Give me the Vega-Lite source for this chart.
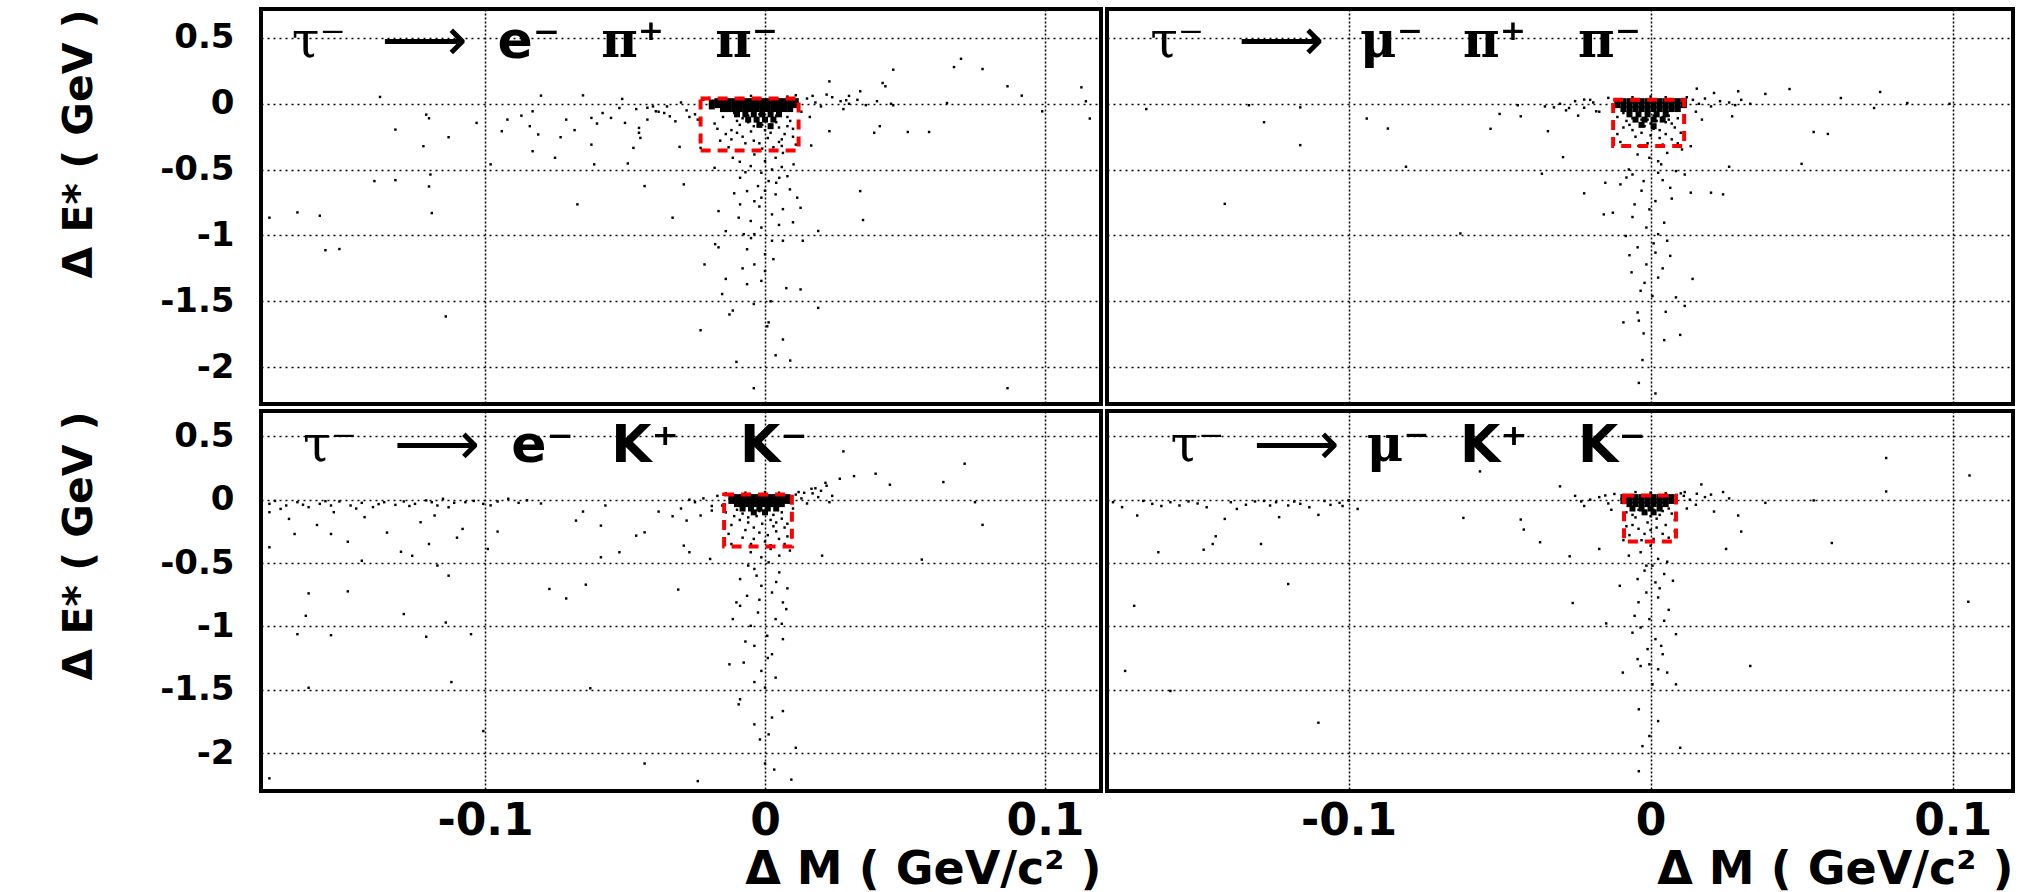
{
"$schema":"https://vega.github.io/schema/vega-lite/v6.json",
"background":"white",
"padding":{"left":56,"top":6,"right":0,"bottom":0},
"spacing":2,
"config":{
 "font":"DejaVu Sans",
 "view":{"stroke":"black","strokeWidth":4},
 "concat":{"spacing":2},
 "axis":{"grid":true,"gridColor":"black","gridWidth":1.5,"gridOpacity":1,"domain":false,"ticks":false,"labelFont":"DejaVu Sans","labelFontWeight":"bold","labelColor":"black","titleFont":"DejaVu Sans","titleFontWeight":"bold","titleColor":"black"},
 "axisX":{"gridDash":[2,2]},
 "axisY":{"gridDash":[2,4]}
},
"datasets":{
"box":[
{"d":"a","x":-0.023,"x2":0.012,"y":0.04,"y2":-0.355},
{"d":"b","x":-0.0124,"x2":0.0111,"y":0.03,"y2":-0.32},
{"d":"c","x":-0.0146,"x2":0.0096,"y":0.04,"y2":-0.37},
{"d":"e","x":-0.0088,"x2":0.0084,"y":0.033,"y2":-0.33}
],
"core":[
{"d":"a","x":-0.019,"y":0.01},{"d":"a","x":-0.017,"y":0.02},{"d":"a","x":-0.015,"y":0.02},{"d":"a","x":-0.013,"y":0.02},{"d":"a","x":-0.011,"y":0.02},{"d":"a","x":-0.009,"y":0.02},{"d":"a","x":-0.007,"y":0.02},{"d":"a","x":-0.005,"y":0.02},{"d":"a","x":-0.003,"y":0.02},{"d":"a","x":-0.001,"y":0.02},{"d":"a","x":0.001,"y":0.02},{"d":"a","x":0.003,"y":0.02},{"d":"a","x":0.005,"y":0.02},{"d":"a","x":0.007,"y":0.02},{"d":"a","x":0.009,"y":0.02},{"d":"a","x":0.011,"y":0.02},
{"d":"a","x":-0.019,"y":-0.02},{"d":"a","x":-0.017,"y":-0.01},{"d":"a","x":-0.015,"y":-0.01},{"d":"a","x":-0.013,"y":-0.01},{"d":"a","x":-0.011,"y":-0.01},{"d":"a","x":-0.009,"y":-0.01},{"d":"a","x":-0.007,"y":-0.01},{"d":"a","x":-0.005,"y":-0.01},{"d":"a","x":-0.003,"y":-0.01},{"d":"a","x":-0.001,"y":-0.01},{"d":"a","x":0.001,"y":-0.01},{"d":"a","x":0.003,"y":-0.01},{"d":"a","x":0.005,"y":-0.01},{"d":"a","x":0.007,"y":-0.01},{"d":"a","x":0.009,"y":-0.01},{"d":"a","x":0.011,"y":-0.01},
{"d":"a","x":-0.015,"y":-0.04},{"d":"a","x":-0.013,"y":-0.04},{"d":"a","x":-0.011,"y":-0.04},{"d":"a","x":-0.009,"y":-0.04},{"d":"a","x":-0.007,"y":-0.04},{"d":"a","x":-0.005,"y":-0.04},{"d":"a","x":-0.003,"y":-0.04},{"d":"a","x":-0.001,"y":-0.04},{"d":"a","x":0.001,"y":-0.04},{"d":"a","x":0.003,"y":-0.04},{"d":"a","x":0.005,"y":-0.04},{"d":"a","x":0.007,"y":-0.04},{"d":"a","x":0.009,"y":-0.04},
{"d":"a","x":-0.01,"y":-0.08},{"d":"a","x":-0.007,"y":-0.08},{"d":"a","x":-0.004,"y":-0.08},{"d":"a","x":-0.001,"y":-0.08},{"d":"a","x":0.002,"y":-0.08},{"d":"a","x":0.005,"y":-0.08},
{"d":"a","x":-0.006,"y":-0.12},{"d":"a","x":-0.003,"y":-0.12},{"d":"a","x":0.0,"y":-0.12},{"d":"a","x":0.003,"y":-0.12},{"d":"a","x":-0.002,"y":-0.16},{"d":"a","x":0.002,"y":-0.17},
{"d":"b","x":-0.011,"y":0.02},{"d":"b","x":-0.009,"y":0.02},{"d":"b","x":-0.007,"y":0.02},{"d":"b","x":-0.005,"y":0.02},{"d":"b","x":-0.003,"y":0.02},{"d":"b","x":-0.001,"y":0.02},{"d":"b","x":0.001,"y":0.02},{"d":"b","x":0.003,"y":0.02},{"d":"b","x":0.005,"y":0.02},{"d":"b","x":0.007,"y":0.02},{"d":"b","x":0.009,"y":0.02},{"d":"b","x":0.011,"y":0.02},
{"d":"b","x":-0.011,"y":-0.01},{"d":"b","x":-0.009,"y":-0.01},{"d":"b","x":-0.007,"y":-0.01},{"d":"b","x":-0.005,"y":-0.01},{"d":"b","x":-0.003,"y":-0.01},{"d":"b","x":-0.001,"y":-0.01},{"d":"b","x":0.001,"y":-0.01},{"d":"b","x":0.003,"y":-0.01},{"d":"b","x":0.005,"y":-0.01},{"d":"b","x":0.007,"y":-0.01},{"d":"b","x":0.009,"y":-0.01},{"d":"b","x":0.011,"y":-0.01},
{"d":"b","x":-0.009,"y":-0.04},{"d":"b","x":-0.007,"y":-0.04},{"d":"b","x":-0.005,"y":-0.04},{"d":"b","x":-0.003,"y":-0.04},{"d":"b","x":-0.001,"y":-0.04},{"d":"b","x":0.001,"y":-0.04},{"d":"b","x":0.003,"y":-0.04},{"d":"b","x":0.005,"y":-0.04},{"d":"b","x":0.007,"y":-0.04},{"d":"b","x":0.009,"y":-0.04},
{"d":"b","x":-0.007,"y":-0.08},{"d":"b","x":-0.004,"y":-0.08},{"d":"b","x":-0.001,"y":-0.08},{"d":"b","x":0.002,"y":-0.08},{"d":"b","x":0.005,"y":-0.08},
{"d":"b","x":-0.005,"y":-0.12},{"d":"b","x":-0.002,"y":-0.12},{"d":"b","x":0.001,"y":-0.12},{"d":"b","x":0.004,"y":-0.12},{"d":"b","x":-0.003,"y":-0.16},{"d":"b","x":0.001,"y":-0.17},
{"d":"c","x":-0.012,"y":0.02},{"d":"c","x":-0.01,"y":0.02},{"d":"c","x":-0.008,"y":0.02},{"d":"c","x":-0.006,"y":0.02},{"d":"c","x":-0.004,"y":0.02},{"d":"c","x":-0.002,"y":0.02},{"d":"c","x":0.0,"y":0.02},{"d":"c","x":0.002,"y":0.02},{"d":"c","x":0.004,"y":0.02},{"d":"c","x":0.006,"y":0.02},{"d":"c","x":0.008,"y":0.02},
{"d":"c","x":-0.012,"y":-0.01},{"d":"c","x":-0.01,"y":-0.01},{"d":"c","x":-0.008,"y":-0.01},{"d":"c","x":-0.006,"y":-0.01},{"d":"c","x":-0.004,"y":-0.01},{"d":"c","x":-0.002,"y":-0.01},{"d":"c","x":0.0,"y":-0.01},{"d":"c","x":0.002,"y":-0.01},{"d":"c","x":0.004,"y":-0.01},{"d":"c","x":0.006,"y":-0.01},{"d":"c","x":0.008,"y":-0.01},
{"d":"c","x":-0.01,"y":-0.035},{"d":"c","x":-0.008,"y":-0.035},{"d":"c","x":-0.006,"y":-0.035},{"d":"c","x":-0.004,"y":-0.035},{"d":"c","x":-0.002,"y":-0.035},{"d":"c","x":0.0,"y":-0.035},{"d":"c","x":0.002,"y":-0.035},{"d":"c","x":0.004,"y":-0.035},{"d":"c","x":0.006,"y":-0.035},
{"d":"c","x":-0.008,"y":-0.07},{"d":"c","x":-0.005,"y":-0.07},{"d":"c","x":-0.002,"y":-0.07},{"d":"c","x":0.001,"y":-0.07},{"d":"c","x":0.004,"y":-0.07},{"d":"c","x":-0.004,"y":-0.1},{"d":"c","x":0.0,"y":-0.1},
{"d":"e","x":-0.009,"y":0.02},{"d":"e","x":-0.007,"y":0.02},{"d":"e","x":-0.005,"y":0.02},{"d":"e","x":-0.003,"y":0.02},{"d":"e","x":-0.001,"y":0.02},{"d":"e","x":0.001,"y":0.02},{"d":"e","x":0.003,"y":0.02},{"d":"e","x":0.005,"y":0.02},{"d":"e","x":0.007,"y":0.02},
{"d":"e","x":-0.009,"y":-0.01},{"d":"e","x":-0.007,"y":-0.01},{"d":"e","x":-0.005,"y":-0.01},{"d":"e","x":-0.003,"y":-0.01},{"d":"e","x":-0.001,"y":-0.01},{"d":"e","x":0.001,"y":-0.01},{"d":"e","x":0.003,"y":-0.01},{"d":"e","x":0.005,"y":-0.01},{"d":"e","x":0.007,"y":-0.01},
{"d":"e","x":-0.007,"y":-0.035},{"d":"e","x":-0.005,"y":-0.035},{"d":"e","x":-0.003,"y":-0.035},{"d":"e","x":-0.001,"y":-0.035},{"d":"e","x":0.001,"y":-0.035},{"d":"e","x":0.003,"y":-0.035},{"d":"e","x":0.005,"y":-0.035},
{"d":"e","x":-0.006,"y":-0.07},{"d":"e","x":-0.003,"y":-0.07},{"d":"e","x":0.0,"y":-0.07},{"d":"e","x":0.003,"y":-0.07},{"d":"e","x":-0.002,"y":-0.1},{"d":"e","x":0.001,"y":-0.1}
],
"pts":[
{"d":"a","x":-0.1375,"y":0.052},{"d":"a","x":-0.121,"y":-0.082},{"d":"a","x":-0.12,"y":-0.11},{"d":"a","x":-0.132,"y":-0.196},{"d":"a","x":-0.113,"y":-0.254},{"d":"a","x":-0.122,"y":-0.322},{"d":"a","x":-0.1395,"y":-0.587},{"d":"a","x":-0.132,"y":-0.58},{"d":"a","x":-0.12,"y":-0.628},{"d":"a","x":-0.1195,"y":-0.537},{"d":"a","x":-0.119,"y":-0.83},{"d":"a","x":-0.167,"y":-0.825},{"d":"a","x":-0.159,"y":-0.85},{"d":"a","x":-0.177,"y":-0.865},{"d":"a","x":-0.157,"y":-1.112},{"d":"a","x":-0.152,"y":-1.103},{"d":"a","x":-0.114,"y":-1.615},{"d":"a","x":-0.08,"y":0.062},{"d":"a","x":-0.065,"y":0.064},{"d":"a","x":-0.051,"y":0.037},{"d":"a","x":-0.083,"y":-0.057},{"d":"a","x":-0.084,"y":-0.17},{"d":"a","x":-0.081,"y":-0.233},{"d":"a","x":-0.073,"y":-0.254},{"d":"a","x":-0.083,"y":-0.36},{"d":"a","x":-0.075,"y":-0.41},{"d":"a","x":-0.062,"y":-0.31},{"d":"a","x":-0.061,"y":-0.46},{"d":"a","x":-0.067,"y":-0.764},{"d":"a","x":-0.103,"y":-0.145},{"d":"a","x":-0.094,"y":-0.208},{"d":"a","x":-0.098,"y":-0.46},{"d":"a","x":-0.049,"y":-0.453},{"d":"a","x":-0.043,"y":-0.625},{"d":"a","x":-0.033,"y":-0.865},{"d":"a","x":-0.029,"y":-0.612},{"d":"a","x":-0.034,"y":-0.095},{"d":"a","x":-0.055,"y":-0.107},{"d":"a","x":-0.05,"y":-0.145},{"d":"a","x":-0.045,"y":-0.183},{"d":"a","x":-0.0445,"y":-0.259},{"d":"a","x":-0.047,"y":-0.335},{"d":"a","x":-0.039,"y":-0.057},{"d":"a","x":-0.042,"y":-0.12},{"d":"a","x":-0.032,"y":-0.133},{"d":"a","x":-0.052,"y":-0.032},{"d":"a","x":-0.071,"y":-0.12},{"d":"a","x":-0.062,"y":-0.107},{"d":"a","x":-0.0305,"y":-0.327},{"d":"a","x":-0.023,"y":-0.335},{"d":"a","x":-0.018,"y":-0.486},{"d":"a","x":0.034,"y":-0.663},{"d":"a","x":0.035,"y":-0.883},{"d":"a","x":0.019,"y":-0.966},{"d":"a","x":0.0165,"y":-0.317},{"d":"a","x":0.023,"y":-0.208},{"d":"a","x":0.041,"y":-0.17},{"d":"a","x":0.039,"y":-0.22},{"d":"a","x":0.051,"y":-0.214},{"d":"a","x":0.0586,"y":-0.214},{"d":"a","x":0.034,"y":0.095},{"d":"a","x":0.042,"y":0.158},{"d":"a","x":0.043,"y":0.133},{"d":"a","x":0.0458,"y":0.259},{"d":"a","x":0.0675,"y":0.279},{"d":"a","x":0.07,"y":0.342},{"d":"a","x":0.0777,"y":0.264},{"d":"a","x":0.0866,"y":0.133},{"d":"a","x":0.0917,"y":0.062},{"d":"a","x":0.113,"y":0.125},{"d":"a","x":0.116,"y":-0.112},{"d":"a","x":0.1146,"y":0.019},{"d":"a","x":0.099,"y":-0.057},{"d":"a","x":0.065,"y":0.006},{"d":"a","x":0.0458,"y":-0.011},{"d":"a","x":0.029,"y":0.027},{"d":"a","x":0.023,"y":0.17},{"d":"a","x":0.0866,"y":-2.16},{"d":"a","x":-0.004,"y":-2.16},{"d":"a","x":0.009,"y":-1.95},{"d":"a","x":0.0038,"y":-1.91},{"d":"a","x":0.0064,"y":-1.79},{"d":"a","x":-0.0102,"y":-1.96},{"d":"a","x":-0.023,"y":-1.72},{"d":"a","x":-0.0127,"y":-1.6},{"d":"a","x":-0.0115,"y":-1.57},{"d":"a","x":0.019,"y":-1.55},{"d":"a","x":0.0013,"y":-1.66},{"d":"a","x":0.0008,"y":-1.69},{"d":"a","x":0.0076,"y":-1.4},{"d":"a","x":0.0127,"y":-1.41},{"d":"a","x":-0.0064,"y":-1.37},{"d":"a","x":-0.0013,"y":-1.345},{"d":"a","x":0,"y":-1.27},{"d":"a","x":-0.014,"y":-1.33},{"d":"a","x":-0.0153,"y":-1.445},{"d":"a","x":-0.0216,"y":-1.22},{"d":"a","x":-0.0038,"y":-1.22},{"d":"a","x":-0.0166,"y":-1.09},{"d":"a","x":-0.0064,"y":-1.105},{"d":"a","x":0,"y":-1.143},{"d":"a","x":0.0025,"y":-1.04},{"d":"a","x":0.0064,"y":-1.04},{"d":"a","x":-0.0038,"y":-0.99},{"d":"a","x":-0.0076,"y":-0.99},{"d":"a","x":-0.0013,"y":-0.94},{"d":"a","x":-0.014,"y":-0.967},{"d":"a","x":-0.0094,"y":-0.865},{"d":"a","x":-0.0051,"y":-0.89},{"d":"a","x":0.0025,"y":-0.84},{"d":"a","x":0.0064,"y":-0.8},{"d":"a","x":-0.0089,"y":-0.764},{"d":"a","x":-0.0038,"y":-0.74},{"d":"a","x":-0.0013,"y":-0.713},{"d":"a","x":0.0038,"y":-0.688},{"d":"a","x":0.0089,"y":-0.65},{"d":"a","x":0.0115,"y":-0.713},{"d":"a","x":-0.0064,"y":-0.663},{"d":"a","x":-0.0025,"y":-0.625},{"d":"a","x":0.0013,"y":-0.587},{"d":"a","x":0.0051,"y":-0.562},{"d":"a","x":-0.0089,"y":-0.562},{"d":"a","x":-0.0013,"y":-0.524},{"d":"a","x":0.0025,"y":-0.499},{"d":"a","x":-0.0051,"y":-0.473},{"d":"a","x":0,"y":-0.436},{"d":"a","x":0.0038,"y":-0.41},{"d":"a","x":-0.0038,"y":-0.385},{"d":"a","x":0.0064,"y":-0.373},{"d":"a","x":-0.0115,"y":-0.41},{"d":"a","x":0.0102,"y":-0.46},{"d":"a","x":0.0127,"y":-0.79},{"d":"a","x":-0.0166,"y":-0.815},{"d":"a","x":0.0135,"y":-1.04},{"d":"a","x":-0.0178,"y":-1.066},
{"d":"a","x":0.004,"y":-0.6},{"d":"a","x":-0.007,"y":-0.52},{"d":"a","x":0.008,"y":-0.55},{"d":"a","x":-0.002,"y":-0.78},{"d":"a","x":0.005,"y":-0.92},{"d":"a","x":-0.005,"y":-1.02},{"d":"a","x":0.003,"y":-1.18},{"d":"a","x":-0.008,"y":-1.25},{"d":"a","x":0.002,"y":-1.5},{"d":"a","x":-0.004,"y":-1.52},{"d":"a","x":0.01,"y":-0.9},{"d":"a","x":-0.011,"y":-0.68},{"d":"a","x":0.0,"y":-0.66},{"d":"a","x":0.006,"y":-0.48},{"d":"a","x":-0.009,"y":-0.44},
{"d":"a","x":-0.092,"y":-0.12},{"d":"a","x":-0.087,"y":-0.09},{"d":"a","x":-0.058,"y":-0.07},{"d":"a","x":-0.046,"y":-0.04},{"d":"a","x":-0.04,"y":-0.02},{"d":"a","x":-0.036,"y":-0.07},{"d":"a","x":-0.027,"y":-0.1},{"d":"a","x":-0.06,"y":-0.15},{"d":"a","x":-0.068,"y":-0.2},{"d":"a","x":-0.045,"y":-0.22},
{"d":"a","x":-0.035,"y":-0.02},{"d":"a","x":-0.03,"y":0.01},{"d":"a","x":-0.028,"y":-0.05},{"d":"a","x":-0.025,"y":-0.08},{"d":"a","x":-0.038,"y":-0.06},{"d":"a","x":-0.042,"y":-0.03},{"d":"a","x":-0.022,"y":0.03},{"d":"a","x":0.015,"y":0.04},{"d":"a","x":0.018,"y":0.01},{"d":"a","x":0.02,"y":-0.02},{"d":"a","x":0.024,"y":0.05},{"d":"a","x":0.027,"y":0.02},{"d":"a","x":0.03,"y":0.0},{"d":"a","x":0.033,"y":0.03},{"d":"a","x":0.036,"y":-0.01},{"d":"a","x":0.028,"y":-0.04},{"d":"a","x":0.022,"y":0.07},{"d":"a","x":0.017,"y":0.06},{"d":"a","x":0.04,"y":0.02},{"d":"a","x":0.045,"y":0.0},{"d":"a","x":0.013,"y":-0.06},{"d":"a","x":0.016,"y":-0.1},{"d":"a","x":-0.024,"y":-0.12},{"d":"a","x":-0.02,"y":0.045},{"d":"a","x":0.008,"y":0.055},{"d":"a","x":-0.005,"y":0.06},{"d":"a","x":0.011,"y":0.065},{"d":"a","x":0.03,"y":0.06},
{"d":"a","x":-0.018,"y":-0.15},{"d":"a","x":-0.015,"y":-0.1},{"d":"a","x":-0.012,"y":-0.2},{"d":"a","x":-0.01,"y":-0.13},{"d":"a","x":-0.008,"y":-0.25},{"d":"a","x":-0.006,"y":-0.09},{"d":"a","x":-0.004,"y":-0.17},{"d":"a","x":-0.002,"y":-0.3},{"d":"a","x":0,"y":-0.11},{"d":"a","x":0.002,"y":-0.22},{"d":"a","x":0.004,"y":-0.14},{"d":"a","x":0.006,"y":-0.27},{"d":"a","x":0.008,"y":-0.1},{"d":"a","x":0.01,"y":-0.19},{"d":"a","x":0.011,"y":-0.31},{"d":"a","x":-0.016,"y":-0.28},{"d":"a","x":-0.013,"y":-0.33},{"d":"a","x":-0.009,"y":-0.16},{"d":"a","x":-0.005,"y":-0.21},{"d":"a","x":-0.001,"y":-0.16},{"d":"a","x":0.003,"y":-0.33},{"d":"a","x":0.007,"y":-0.23},{"d":"a","x":0.009,"y":-0.13},{"d":"a","x":-0.011,"y":-0.07},{"d":"a","x":-0.003,"y":-0.12},{"d":"a","x":0.001,"y":-0.26},{"d":"a","x":0.005,"y":-0.18},{"d":"a","x":-0.007,"y":-0.3},{"d":"a","x":-0.014,"y":-0.23},{"d":"a","x":0,"y":-0.2},{"d":"a","x":-0.002,"y":-0.08},{"d":"a","x":0.002,"y":-0.16},{"d":"a","x":-0.006,"y":-0.14},{"d":"a","x":0.004,"y":-0.09},{"d":"a","x":0.008,"y":-0.17},{"d":"a","x":-0.01,"y":-0.22},{"d":"a","x":-0.004,"y":-0.28},{"d":"a","x":0.006,"y":-0.32},{"d":"a","x":-0.017,"y":-0.19},{"d":"a","x":0.01,"y":-0.25},{"d":"a","x":-0.008,"y":-0.11},{"d":"a","x":0.003,"y":-0.12},{"d":"a","x":-0.001,"y":-0.34},{"d":"a","x":0.005,"y":-0.29},{"d":"a","x":-0.012,"y":-0.27},
{"d":"b","x":-0.167,"y":-0.04},{"d":"b","x":-0.133,"y":-0.011},{"d":"b","x":-0.116,"y":-0.027},{"d":"b","x":-0.128,"y":-0.14},{"d":"b","x":-0.116,"y":-0.314},{"d":"b","x":-0.141,"y":-0.76},{"d":"b","x":-0.094,"y":-0.112},{"d":"b","x":-0.087,"y":-0.188},{"d":"b","x":-0.081,"y":-0.478},{"d":"b","x":-0.063,"y":-0.985},{"d":"b","x":-0.053,"y":-0.19},{"d":"b","x":-0.044,"y":-0.011},{"d":"b","x":-0.043,"y":-0.095},{"d":"b","x":-0.05,"y":-0.077},{"d":"b","x":-0.034,"y":-0.208},{"d":"b","x":-0.029,"y":-0.405},{"d":"b","x":-0.036,"y":-0.531},{"d":"b","x":-0.022,"y":-0.68},{"d":"b","x":-0.0155,"y":-0.84},{"d":"b","x":-0.0125,"y":-0.827},{"d":"b","x":0.027,"y":-0.095},{"d":"b","x":0.026,"y":-0.478},{"d":"b","x":0.02,"y":-0.675},{"d":"b","x":0.024,"y":-0.688},{"d":"b","x":0.038,"y":0.075},{"d":"b","x":0.046,"y":0.112},{"d":"b","x":0.05,"y":-0.456},{"d":"b","x":0.054,"y":-0.214},{"d":"b","x":0.0587,"y":-0.229},{"d":"b","x":0.063,"y":0.044},{"d":"b","x":0.074,"y":-0.032},{"d":"b","x":0.076,"y":0.09},{"d":"b","x":0.085,"y":0.006},{"d":"b","x":0.099,"y":0},{"d":"b","x":0.029,"y":0.095},{"d":"b","x":0.0153,"y":0.115},{"d":"b","x":0.021,"y":0.082},{"d":"b","x":-0.022,"y":0.032},{"d":"b","x":-0.027,"y":-0.032},{"d":"b","x":-0.032,"y":-0.027},{"d":"b","x":-0.018,"y":-0.057},
{"d":"b","x":-0.015,"y":-0.6},{"d":"b","x":-0.01,"y":-0.612},{"d":"b","x":-0.006,"y":-0.537},{"d":"b","x":-0.0023,"y":-0.587},{"d":"b","x":0.0025,"y":-0.524},{"d":"b","x":0.0065,"y":-0.638},{"d":"b","x":0.0084,"y":-0.511},{"d":"b","x":0.0133,"y":-0.675},{"d":"b","x":0.0113,"y":-0.537},{"d":"b","x":0.0016,"y":-0.739},{"d":"b","x":-0.0004,"y":-0.802},{"d":"b","x":-0.0053,"y":-0.764},{"d":"b","x":0.0045,"y":-0.903},{"d":"b","x":-0.0014,"y":-0.94},{"d":"b","x":0.0025,"y":-0.99},{"d":"b","x":-0.0082,"y":-1.004},{"d":"b","x":0.0055,"y":-1.04},{"d":"b","x":-0.0043,"y":-1.09},{"d":"b","x":0.0016,"y":-1.13},{"d":"b","x":0.0065,"y":-1.155},{"d":"b","x":-0.0014,"y":-1.22},{"d":"b","x":-0.0063,"y":-1.28},{"d":"b","x":0.0025,"y":-1.32},{"d":"b","x":0.0139,"y":-1.33},{"d":"b","x":-0.0033,"y":-1.42},{"d":"b","x":0.0006,"y":-1.46},{"d":"b","x":0.0084,"y":-1.47},{"d":"b","x":0.0113,"y":-1.535},{"d":"b","x":-0.0043,"y":-1.585},{"d":"b","x":-0.009,"y":-1.66},{"d":"b","x":-0.0039,"y":-1.647},{"d":"b","x":-0.0023,"y":-1.744},{"d":"b","x":0.0045,"y":-1.795},{"d":"b","x":0.0098,"y":-1.755},{"d":"b","x":-0.0027,"y":-1.946},{"d":"b","x":-0.0039,"y":-2.12},{"d":"b","x":0.0016,"y":-2.2},{"d":"b","x":-0.0004,"y":-0.41},{"d":"b","x":0.0025,"y":-0.436},{"d":"b","x":0.0055,"y":-0.373},{"d":"b","x":-0.0043,"y":-0.385},{"d":"b","x":0.0104,"y":-0.347},{"d":"b","x":0.0133,"y":-0.322},{"d":"b","x":-0.0072,"y":-0.499},{"d":"b","x":0.0035,"y":-0.46},{"d":"b","x":-0.008,"y":-0.56},{"d":"b","x":0.004,"y":-0.58},{"d":"b","x":-0.003,"y":-0.66},{"d":"b","x":0.007,"y":-0.72},{"d":"b","x":-0.006,"y":-0.86},{"d":"b","x":0.001,"y":-1.06},{"d":"b","x":-0.007,"y":-1.15},{"d":"b","x":0.004,"y":-1.25},{"d":"b","x":-0.002,"y":-1.36},{"d":"b","x":0.005,"y":-1.58},
{"d":"b","x":-0.03,"y":0.0},{"d":"b","x":-0.025,"y":0.02},{"d":"b","x":-0.022,"y":-0.03},{"d":"b","x":-0.019,"y":0.01},{"d":"b","x":-0.017,"y":-0.06},{"d":"b","x":-0.02,"y":0.03},{"d":"b","x":0.014,"y":0.03},{"d":"b","x":0.016,"y":0.0},{"d":"b","x":0.018,"y":0.04},{"d":"b","x":0.02,"y":-0.02},{"d":"b","x":0.023,"y":0.02},{"d":"b","x":0.026,"y":0.01},{"d":"b","x":0.015,"y":-0.06},{"d":"b","x":0.012,"y":0.05},{"d":"b","x":-0.014,"y":0.045},{"d":"b","x":0.0,"y":0.055},{"d":"b","x":0.005,"y":0.05},{"d":"b","x":-0.006,"y":0.05},{"d":"b","x":0.028,"y":-0.01},{"d":"b","x":-0.028,"y":-0.05},{"d":"b","x":-0.035,"y":-0.02},{"d":"b","x":0.03,"y":0.03},{"d":"b","x":0.033,"y":0.0},{"d":"b","x":-0.024,"y":-0.09},{"d":"b","x":0.017,"y":-0.12},
{"d":"b","x":-0.011,"y":-0.1},{"d":"b","x":-0.009,"y":-0.18},{"d":"b","x":-0.007,"y":-0.08},{"d":"b","x":-0.005,"y":-0.25},{"d":"b","x":-0.003,"y":-0.12},{"d":"b","x":-0.001,"y":-0.3},{"d":"b","x":0.001,"y":-0.09},{"d":"b","x":0.003,"y":-0.2},{"d":"b","x":0.005,"y":-0.14},{"d":"b","x":0.007,"y":-0.27},{"d":"b","x":0.009,"y":-0.11},{"d":"b","x":0.01,"y":-0.22},{"d":"b","x":-0.01,"y":-0.29},{"d":"b","x":-0.008,"y":-0.13},{"d":"b","x":-0.006,"y":-0.2},{"d":"b","x":-0.002,"y":-0.17},{"d":"b","x":0.0,"y":-0.24},{"d":"b","x":0.002,"y":-0.13},{"d":"b","x":0.004,"y":-0.31},{"d":"b","x":0.006,"y":-0.09},{"d":"b","x":0.008,"y":-0.18},{"d":"b","x":-0.011,"y":-0.23},{"d":"b","x":-0.004,"y":-0.32},{"d":"b","x":0.0,"y":-0.15},{"d":"b","x":0.003,"y":-0.26},{"d":"b","x":-0.006,"y":-0.11},{"d":"b","x":0.007,"y":-0.15},{"d":"b","x":-0.009,"y":-0.07},{"d":"b","x":0.009,"y":-0.3},{"d":"b","x":-0.003,"y":-0.22},{"d":"b","x":0.001,"y":-0.19},{"d":"b","x":0.005,"y":-0.23},{"d":"b","x":-0.007,"y":-0.16},{"d":"b","x":0.002,"y":-0.07},{"d":"b","x":-0.001,"y":-0.12},{"d":"b","x":0.006,"y":-0.12},{"d":"b","x":-0.004,"y":-0.09},{"d":"b","x":0.004,"y":-0.1},
{"d":"c","x":-0.177,"y":-0.033},{"d":"c","x":-0.173,"y":-0.073},{"d":"c","x":-0.171,"y":-0.046},{"d":"c","x":-0.167,"y":-0.02},{"d":"c","x":-0.163,"y":-0.059},{"d":"c","x":-0.159,"y":-0.033},{"d":"c","x":-0.155,"y":-0.046},{"d":"c","x":-0.152,"y":-0.014},{"d":"c","x":-0.148,"y":-0.046},{"d":"c","x":-0.144,"y":-0.025},{"d":"c","x":-0.14,"y":-0.059},{"d":"c","x":-0.136,"y":-0.02},{"d":"c","x":-0.132,"y":-0.041},{"d":"c","x":-0.129,"y":-0.014},{"d":"c","x":-0.125,"y":-0.033},{"d":"c","x":-0.121,"y":-0.006},{"d":"c","x":-0.117,"y":-0.046},{"d":"c","x":-0.115,"y":0.007},{"d":"c","x":-0.111,"y":-0.025},{"d":"c","x":-0.107,"y":-0.02},{"d":"c","x":-0.1006,"y":-0.033},{"d":"c","x":-0.0955,"y":-0.014},{"d":"c","x":-0.0917,"y":0.007},{"d":"c","x":-0.088,"y":-0.025},{"d":"c","x":-0.17,"y":-0.152},{"d":"c","x":-0.177,"y":-0.099},{"d":"c","x":-0.154,"y":-0.099},{"d":"c","x":-0.143,"y":-0.138},{"d":"c","x":-0.123,"y":-0.178},{"d":"c","x":-0.118,"y":-0.125},{"d":"c","x":-0.108,"y":-0.231},{"d":"c","x":-0.0955,"y":-0.252},{"d":"c","x":-0.177,"y":-0.376},{"d":"c","x":-0.168,"y":-0.271},{"d":"c","x":-0.155,"y":-0.271},{"d":"c","x":-0.149,"y":-0.332},{"d":"c","x":-0.144,"y":-0.482},{"d":"c","x":-0.13,"y":-0.411},{"d":"c","x":-0.126,"y":-0.443},{"d":"c","x":-0.12,"y":-0.35},{"d":"c","x":-0.113,"y":-0.6},{"d":"c","x":-0.117,"y":-0.52},{"d":"c","x":-0.099,"y":-0.389},{"d":"c","x":-0.163,"y":-0.74},{"d":"c","x":-0.149,"y":-0.724},{"d":"c","x":-0.129,"y":-0.903},{"d":"c","x":-0.164,"y":-0.917},{"d":"c","x":-0.167,"y":-1.062},{"d":"c","x":-0.155,"y":-1.07},{"d":"c","x":-0.121,"y":-1.082},{"d":"c","x":-0.114,"y":-0.97},{"d":"c","x":-0.105,"y":-1.062},{"d":"c","x":-0.112,"y":-1.44},{"d":"c","x":-0.163,"y":-1.485},{"d":"c","x":-0.177,"y":-2.2},{"d":"c","x":-0.1006,"y":-1.827},{"d":"c","x":-0.0624,"y":-1.489},{"d":"c","x":-0.043,"y":-2.083},{"d":"c","x":-0.024,"y":-2.222},{"d":"c","x":-0.077,"y":-0.705},{"d":"c","x":-0.071,"y":-0.78},{"d":"c","x":-0.064,"y":-0.671},{"d":"c","x":-0.031,"y":-0.71},{"d":"c","x":-0.0675,"y":-0.165},{"d":"c","x":-0.0586,"y":-0.205},{"d":"c","x":-0.065,"y":-0.094},{"d":"c","x":-0.057,"y":-0.046},{"d":"c","x":-0.046,"y":-0.284},{"d":"c","x":-0.043,"y":-0.258},{"d":"c","x":-0.052,"y":-0.415},{"d":"c","x":-0.0586,"y":-0.455},{"d":"c","x":-0.029,"y":-0.363},{"d":"c","x":-0.027,"y":-0.415},{"d":"c","x":-0.0196,"y":-0.468},{"d":"c","x":-0.038,"y":-0.094},{"d":"c","x":-0.033,"y":-0.131},{"d":"c","x":-0.028,"y":-0.165},{"d":"c","x":-0.023,"y":-0.125},{"d":"c","x":-0.019,"y":-0.086},{"d":"c","x":-0.0153,"y":-0.046},{"d":"c","x":0.0204,"y":-0.442},{"d":"c","x":0.028,"y":0.381},{"d":"c","x":0.0713,"y":0.284},{"d":"c","x":0.0777,"y":-0.199},{"d":"c","x":0.056,"y":-0.473},{"d":"c","x":0.0637,"y":0.139},{"d":"c","x":0.0446,"y":0.118},{"d":"c","x":0.0395,"y":0.205},{"d":"c","x":0.0318,"y":0.186},{"d":"c","x":0.0267,"y":0.165},{"d":"c","x":0.0216,"y":0.133},{"d":"c","x":0.0166,"y":0.086},{"d":"c","x":0.014,"y":0.054},{"d":"c","x":0.019,"y":0.02},{"d":"c","x":0.023,"y":-0.02},{"d":"c","x":0.075,"y":-0.02},
{"d":"c","x":-0.175,"y":-0.01},{"d":"c","x":-0.165,"y":-0.04},{"d":"c","x":-0.157,"y":-0.012},{"d":"c","x":-0.146,"y":-0.07},{"d":"c","x":-0.138,"y":-0.035},{"d":"c","x":-0.127,"y":-0.05},{"d":"c","x":-0.119,"y":-0.02},{"d":"c","x":-0.113,"y":-0.06},{"d":"c","x":-0.104,"y":-0.01},{"d":"c","x":-0.098,"y":-0.045},{"d":"c","x":-0.085,"y":-0.005},{"d":"c","x":-0.08,"y":-0.03},{"d":"c","x":-0.16,"y":-0.2},{"d":"c","x":-0.135,"y":-0.26},{"d":"c","x":-0.11,"y":-0.3},
{"d":"c","x":-0.0089,"y":-0.627},{"d":"c","x":-0.0038,"y":-0.547},{"d":"c","x":0.0013,"y":-0.495},{"d":"c","x":0.0051,"y":-0.574},{"d":"c","x":-0.0013,"y":-0.68},{"d":"c","x":-0.0064,"y":-0.759},{"d":"c","x":0.0025,"y":-0.733},{"d":"c","x":0.0064,"y":-0.811},{"d":"c","x":-0.0089,"y":-0.838},{"d":"c","x":-0.0025,"y":-0.891},{"d":"c","x":0.0038,"y":-0.943},{"d":"c","x":0.0076,"y":-0.864},{"d":"c","x":-0.0115,"y":-0.943},{"d":"c","x":-0.0051,"y":-0.996},{"d":"c","x":0.0008,"y":-1.075},{"d":"c","x":0.0064,"y":-1.101},{"d":"c","x":-0.0038,"y":-1.154},{"d":"c","x":0.0025,"y":-1.22},{"d":"c","x":-0.0076,"y":-1.286},{"d":"c","x":-0.0127,"y":-1.3},{"d":"c","x":-0.0013,"y":-1.352},{"d":"c","x":0.0038,"y":-1.405},{"d":"c","x":-0.0038,"y":-1.44},{"d":"c","x":0,"y":-1.484},{"d":"c","x":-0.0089,"y":-1.576},{"d":"c","x":-0.0094,"y":-1.616},{"d":"c","x":0.0064,"y":-1.669},{"d":"c","x":0.0025,"y":-1.72},{"d":"c","x":-0.0038,"y":-1.774},{"d":"c","x":0.0013,"y":-1.853},{"d":"c","x":-0.0018,"y":-1.893},{"d":"c","x":0.011,"y":-1.959},{"d":"c","x":0,"y":-2.083},{"d":"c","x":0.0033,"y":-2.131},{"d":"c","x":0.0094,"y":-2.21},{"d":"c","x":-0.0102,"y":-0.811},{"d":"c","x":0.0089,"y":-0.402},{"d":"c","x":0.0051,"y":-0.442},{"d":"c","x":-0.0051,"y":-0.415},{"d":"c","x":-0.0013,"y":-0.455},{"d":"c","x":0.002,"y":-0.389},{"d":"c","x":-0.006,"y":-0.52},{"d":"c","x":0.004,"y":-0.65},{"d":"c","x":-0.002,"y":-0.79},{"d":"c","x":0.006,"y":-0.98},{"d":"c","x":-0.007,"y":-1.12},{"d":"c","x":0.001,"y":-1.25},{"d":"c","x":-0.003,"y":-0.6},{"d":"c","x":0.008,"y":-0.7},
{"d":"c","x":-0.025,"y":-0.02},{"d":"c","x":-0.022,"y":0.01},{"d":"c","x":-0.019,"y":-0.05},{"d":"c","x":-0.017,"y":0.03},{"d":"c","x":-0.03,"y":-0.07},{"d":"c","x":0.011,"y":0.04},{"d":"c","x":0.013,"y":0.01},{"d":"c","x":0.015,"y":-0.03},{"d":"c","x":0.017,"y":0.05},{"d":"c","x":0.02,"y":0.07},{"d":"c","x":0.012,"y":0.06},{"d":"c","x":-0.014,"y":0.05},{"d":"c","x":0.0,"y":0.06},{"d":"c","x":0.005,"y":0.055},{"d":"c","x":-0.007,"y":0.055},{"d":"c","x":0.01,"y":-0.07},{"d":"c","x":-0.027,"y":0.0},{"d":"c","x":0.024,"y":0.03},{"d":"c","x":0.018,"y":0.09},{"d":"c","x":0.022,"y":0.11},
{"d":"c","x":-0.014,"y":-0.1},{"d":"c","x":-0.012,"y":-0.2},{"d":"c","x":-0.01,"y":-0.08},{"d":"c","x":-0.008,"y":-0.3},{"d":"c","x":-0.006,"y":-0.14},{"d":"c","x":-0.004,"y":-0.22},{"d":"c","x":-0.002,"y":-0.09},{"d":"c","x":0.0,"y":-0.33},{"d":"c","x":0.002,"y":-0.16},{"d":"c","x":0.004,"y":-0.25},{"d":"c","x":0.006,"y":-0.1},{"d":"c","x":0.008,"y":-0.19},{"d":"c","x":-0.013,"y":-0.27},{"d":"c","x":-0.009,"y":-0.16},{"d":"c","x":-0.005,"y":-0.35},{"d":"c","x":-0.001,"y":-0.19},{"d":"c","x":0.001,"y":-0.28},{"d":"c","x":0.003,"y":-0.12},{"d":"c","x":0.005,"y":-0.31},{"d":"c","x":0.007,"y":-0.22},{"d":"c","x":-0.011,"y":-0.13},{"d":"c","x":-0.007,"y":-0.24},{"d":"c","x":-0.003,"y":-0.13},{"d":"c","x":0.001,"y":-0.07},{"d":"c","x":0.004,"y":-0.18},{"d":"c","x":0.008,"y":-0.29},{"d":"c","x":-0.002,"y":-0.26},{"d":"c","x":-0.006,"y":-0.18},{"d":"c","x":0.0,"y":-0.11},{"d":"c","x":0.003,"y":-0.21},{"d":"c","x":-0.004,"y":-0.31},{"d":"c","x":0.006,"y":-0.15},{"d":"c","x":-0.008,"y":-0.11},{"d":"c","x":0.002,"y":-0.36},{"d":"c","x":-0.012,"y":-0.35},{"d":"c","x":0.007,"y":-0.35},
{"d":"e","x":-0.178,"y":-0.02},{"d":"e","x":-0.175,"y":-0.059},{"d":"e","x":-0.17,"y":-0.125},{"d":"e","x":-0.165,"y":-0.033},{"d":"e","x":-0.163,"y":-0.415},{"d":"e","x":-0.159,"y":-0.02},{"d":"e","x":-0.156,"y":-0.046},{"d":"e","x":-0.153,"y":-0.014},{"d":"e","x":-0.148,"y":-0.395},{"d":"e","x":-0.145,"y":-0.35},{"d":"e","x":-0.144,"y":-0.289},{"d":"e","x":-0.141,"y":-0.152},{"d":"e","x":-0.137,"y":-0.073},{"d":"e","x":-0.131,"y":-0.014},{"d":"e","x":-0.129,"y":-0.35},{"d":"e","x":-0.126,"y":-0.046},{"d":"e","x":-0.124,"y":-0.02},{"d":"e","x":-0.12,"y":-0.046},{"d":"e","x":-0.123,"y":-0.138},{"d":"e","x":-0.116,"y":-0.033},{"d":"e","x":-0.11,"y":-0.12},{"d":"e","x":-0.106,"y":-0.041},{"d":"e","x":-0.103,"y":-0.025},{"d":"e","x":-0.1,"y":-0.006},{"d":"e","x":-0.097,"y":-0.073},{"d":"e","x":-0.171,"y":-0.838},{"d":"e","x":-0.12,"y":-0.666},{"d":"e","x":-0.174,"y":-1.352},{"d":"e","x":-0.159,"y":-1.51},{"d":"e","x":-0.11,"y":-1.761},{"d":"e","x":-0.0565,"y":0.223},{"d":"e","x":-0.062,"y":-0.144},{"d":"e","x":-0.043,"y":-0.157},{"d":"e","x":-0.042,"y":-0.236},{"d":"e","x":-0.0366,"y":-0.336},{"d":"e","x":-0.0268,"y":-0.447},{"d":"e","x":-0.0258,"y":-0.816},{"d":"e","x":-0.03,"y":0.105},{"d":"e","x":-0.023,"y":-0.014},{"d":"e","x":-0.015,"y":0.033},{"d":"e","x":-0.017,"y":-0.389},{"d":"e","x":-0.0102,"y":-0.68},{"d":"e","x":-0.0147,"y":-0.977},{"d":"e","x":0.029,"y":-0.125},{"d":"e","x":0.03,"y":-0.252},{"d":"e","x":0.025,"y":-0.389},{"d":"e","x":0.021,"y":-0.094},{"d":"e","x":0.033,"y":-1.313},{"d":"e","x":0.06,"y":-0.342},{"d":"e","x":0.038,"y":-0.025},{"d":"e","x":0.054,"y":-0.006},{"d":"e","x":0.078,"y":0.329},{"d":"e","x":0.078,"y":0.065},{"d":"e","x":0.1056,"y":0.191},{"d":"e","x":0.1052,"y":-0.806},{"d":"e","x":0.0168,"y":0.12},{"d":"e","x":0.0153,"y":0.047},{"d":"e","x":0.018,"y":0.02},{"d":"e","x":0.0113,"y":0.06},
{"d":"e","x":-0.168,"y":-0.01},{"d":"e","x":-0.162,"y":-0.05},{"d":"e","x":-0.15,"y":-0.03},{"d":"e","x":-0.147,"y":-0.06},{"d":"e","x":-0.139,"y":-0.02},{"d":"e","x":-0.134,"y":-0.04},{"d":"e","x":-0.128,"y":-0.01},{"d":"e","x":-0.118,"y":-0.015},{"d":"e","x":-0.113,"y":-0.06},{"d":"e","x":-0.108,"y":-0.01},{"d":"e","x":-0.102,"y":-0.05},
{"d":"e","x":0,"y":-0.363},{"d":"e","x":-0.0033,"y":-0.415},{"d":"e","x":0.0025,"y":-0.468},{"d":"e","x":-0.0014,"y":-0.521},{"d":"e","x":0.0045,"y":-0.587},{"d":"e","x":-0.0043,"y":-0.627},{"d":"e","x":0.0016,"y":-0.653},{"d":"e","x":0.0074,"y":-0.64},{"d":"e","x":0.0025,"y":-0.772},{"d":"e","x":-0.0014,"y":-0.733},{"d":"e","x":-0.0053,"y":-0.917},{"d":"e","x":-0.0004,"y":-0.943},{"d":"e","x":0.0045,"y":-0.956},{"d":"e","x":0.0084,"y":-1.062},{"d":"e","x":-0.0033,"y":-1.009},{"d":"e","x":0.0016,"y":-1.101},{"d":"e","x":0.0035,"y":-1.154},{"d":"e","x":-0.0043,"y":-1.259},{"d":"e","x":-0.0004,"y":-1.3},{"d":"e","x":0.0025,"y":-1.339},{"d":"e","x":-0.0033,"y":-1.313},{"d":"e","x":0.0055,"y":-1.365},{"d":"e","x":-0.0092,"y":-1.365},{"d":"e","x":0.0006,"y":-1.458},{"d":"e","x":0.0084,"y":-1.458},{"d":"e","x":-0.0039,"y":-1.655},{"d":"e","x":0.0025,"y":-1.748},{"d":"e","x":-0.0004,"y":-1.866},{"d":"e","x":0.0098,"y":-1.959},{"d":"e","x":-0.0027,"y":-1.946},{"d":"e","x":-0.0039,"y":-2.144},{"d":"e","x":0.0006,"y":-0.521},{"d":"e","x":0.0055,"y":-0.49},{"d":"e","x":-0.0072,"y":-0.442},{"d":"e","x":-0.002,"y":-0.56},{"d":"e","x":0.003,"y":-0.7},{"d":"e","x":-0.004,"y":-0.81},{"d":"e","x":0.006,"y":-0.87},{"d":"e","x":-0.001,"y":-1.18},{"d":"e","x":0.004,"y":-1.22},{"d":"e","x":-0.006,"y":-1.05},
{"d":"e","x":-0.02,"y":0.0},{"d":"e","x":-0.017,"y":0.02},{"d":"e","x":-0.014,"y":-0.03},{"d":"e","x":-0.012,"y":0.045},{"d":"e","x":-0.022,"y":-0.05},{"d":"e","x":0.011,"y":0.03},{"d":"e","x":0.013,"y":0.0},{"d":"e","x":0.015,"y":-0.04},{"d":"e","x":0.02,"y":0.04},{"d":"e","x":0.024,"y":0.06},{"d":"e","x":0.01,"y":0.05},{"d":"e","x":0.0,"y":0.055},{"d":"e","x":-0.005,"y":0.06},{"d":"e","x":0.005,"y":0.05},{"d":"e","x":0.012,"y":-0.07},{"d":"e","x":-0.013,"y":-0.08},{"d":"e","x":0.026,"y":0.01},{"d":"e","x":-0.025,"y":0.03},
{"d":"e","x":-0.008,"y":-0.1},{"d":"e","x":-0.006,"y":-0.2},{"d":"e","x":-0.004,"y":-0.08},{"d":"e","x":-0.002,"y":-0.27},{"d":"e","x":0.0,"y":-0.13},{"d":"e","x":0.002,"y":-0.22},{"d":"e","x":0.004,"y":-0.09},{"d":"e","x":0.006,"y":-0.3},{"d":"e","x":0.008,"y":-0.16},{"d":"e","x":-0.007,"y":-0.28},{"d":"e","x":-0.005,"y":-0.14},{"d":"e","x":-0.001,"y":-0.18},{"d":"e","x":0.001,"y":-0.31},{"d":"e","x":0.003,"y":-0.12},{"d":"e","x":0.005,"y":-0.2},{"d":"e","x":0.007,"y":-0.11},{"d":"e","x":-0.008,"y":-0.21},{"d":"e","x":-0.003,"y":-0.32},{"d":"e","x":0.0,"y":-0.24},{"d":"e","x":0.004,"y":-0.27},{"d":"e","x":-0.006,"y":-0.12},{"d":"e","x":0.002,"y":-0.15},{"d":"e","x":-0.002,"y":-0.1},{"d":"e","x":0.006,"y":-0.07},{"d":"e","x":-0.004,"y":-0.23},{"d":"e","x":0.008,"y":-0.25},{"d":"e","x":0.001,"y":-0.08},{"d":"e","x":-0.009,"y":-0.32}
]
},
"vconcat":[
{"spacing":2,"hconcat":[
{"width":840,"height":395,
 "layer":[
  {"data":{"name":"pts"},"transform":[{"filter":"datum.d==='a'"}],"mark":{"type":"square","size":6,"color":"black","opacity":1},
   "encoding":{
    "x":{"field":"x","type":"quantitative","scale":{"domain":[-0.18,0.12],"nice":false,"zero":false},"axis":{"values":[-0.1,0,0.1],"labels":false,"title":null,"minExtent":0,"maxExtent":0}},
    "y":{"field":"y","type":"quantitative","scale":{"domain":[-2.28,0.72],"nice":false,"zero":false},"axis":{"values":[-2,-1.5,-1,-0.5,0,0.5],"format":"~g","labelExpr":"replace(datum.label,'−','-')","labelFontSize":34,"labelPadding":27,"title":"Δ E* ( GeV )","titleFontSize":41,"titleAnchor":"end","titlePadding":61,"minExtent":100,"maxExtent":100}}}},
  {"data":{"name":"core"},"transform":[{"filter":"datum.d==='a'"}],"mark":{"type":"square","size":36,"color":"black","opacity":1},"encoding":{"x":{"field":"x","type":"quantitative"},"y":{"field":"y","type":"quantitative"}}},
  {"data":{"name":"box"},"transform":[{"filter":"datum.d==='a'"}],"mark":{"type":"rect","fill":null,"stroke":"#ff0000","strokeWidth":4,"strokeDash":[10,7]},"encoding":{"x":{"field":"x","type":"quantitative"},"y":{"field":"y","type":"quantitative"},"x2":{"field":"x2"},"y2":{"field":"y2"}}},
  {"data":{"values":[{"t":"τ⁻"}]},"mark":{"type":"text","font":"DejaVu Serif","fontSize":50,"align":"left","baseline":"middle","fill":"black"},"encoding":{"text":{"field":"t"},"x":{"datum":-0.169,"type":"quantitative"},"y":{"datum":0.47,"type":"quantitative"}}},
  {"data":{"values":[{"t":"⟶"}]},"mark":{"type":"text","font":"DejaVu Sans","fontSize":60,"align":"left","baseline":"middle","fill":"black"},"encoding":{"text":{"field":"t"},"x":{"datum":-0.137,"type":"quantitative"},"y":{"datum":0.47,"type":"quantitative"}}},
  {"data":{"values":[{"t":"e⁻"}]},"mark":{"type":"text","font":"DejaVu Sans","fontWeight":"bold","fontSize":52,"align":"left","baseline":"middle","fill":"black"},"encoding":{"text":{"field":"t"},"x":{"datum":-0.0955,"type":"quantitative"},"y":{"datum":0.47,"type":"quantitative"}}},
  {"data":{"values":[{"t":"π⁺"}]},"mark":{"type":"text","font":"DejaVu Serif","fontWeight":"bold","fontSize":50,"align":"left","baseline":"middle","fill":"black"},"encoding":{"text":{"field":"t"},"x":{"datum":-0.0585,"type":"quantitative"},"y":{"datum":0.47,"type":"quantitative"}}},
  {"data":{"values":[{"t":"π⁻"}]},"mark":{"type":"text","font":"DejaVu Serif","fontWeight":"bold","fontSize":50,"align":"left","baseline":"middle","fill":"black"},"encoding":{"text":{"field":"t"},"x":{"datum":-0.0178,"type":"quantitative"},"y":{"datum":0.47,"type":"quantitative"}}}
 ]},
{"width":906,"height":395,
 "layer":[
  {"data":{"name":"pts"},"transform":[{"filter":"datum.d==='b'"}],"mark":{"type":"square","size":6,"color":"black","opacity":1},
   "encoding":{
    "x":{"field":"x","type":"quantitative","scale":{"domain":[-0.18,0.12],"nice":false,"zero":false},"axis":{"values":[-0.1,0,0.1],"labels":false,"title":null,"minExtent":0,"maxExtent":0}},
    "y":{"field":"y","type":"quantitative","scale":{"domain":[-2.28,0.72],"nice":false,"zero":false},"axis":{"values":[-2,-1.5,-1,-0.5,0,0.5],"labels":false,"title":null,"minExtent":0,"maxExtent":0}}}},
  {"data":{"name":"core"},"transform":[{"filter":"datum.d==='b'"}],"mark":{"type":"square","size":36,"color":"black","opacity":1},"encoding":{"x":{"field":"x","type":"quantitative"},"y":{"field":"y","type":"quantitative"}}},
  {"data":{"name":"box"},"transform":[{"filter":"datum.d==='b'"}],"mark":{"type":"rect","fill":null,"stroke":"#ff0000","strokeWidth":4,"strokeDash":[10,7]},"encoding":{"x":{"field":"x","type":"quantitative"},"y":{"field":"y","type":"quantitative"},"x2":{"field":"x2"},"y2":{"field":"y2"}}},
  {"data":{"values":[{"t":"τ⁻"}]},"mark":{"type":"text","font":"DejaVu Serif","fontSize":50,"align":"left","baseline":"middle","fill":"black"},"encoding":{"text":{"field":"t"},"x":{"datum":-0.1657,"type":"quantitative"},"y":{"datum":0.47,"type":"quantitative"}}},
  {"data":{"values":[{"t":"⟶"}]},"mark":{"type":"text","font":"DejaVu Sans","fontSize":60,"align":"left","baseline":"middle","fill":"black"},"encoding":{"text":{"field":"t"},"x":{"datum":-0.1365,"type":"quantitative"},"y":{"datum":0.47,"type":"quantitative"}}},
  {"data":{"values":[{"t":"μ⁻"}]},"mark":{"type":"text","font":"DejaVu Serif","fontWeight":"bold","fontSize":50,"align":"left","baseline":"middle","fill":"black"},"encoding":{"text":{"field":"t"},"x":{"datum":-0.0962,"type":"quantitative"},"y":{"datum":0.47,"type":"quantitative"}}},
  {"data":{"values":[{"t":"π⁺"}]},"mark":{"type":"text","font":"DejaVu Serif","fontWeight":"bold","fontSize":50,"align":"left","baseline":"middle","fill":"black"},"encoding":{"text":{"field":"t"},"x":{"datum":-0.0621,"type":"quantitative"},"y":{"datum":0.47,"type":"quantitative"}}},
  {"data":{"values":[{"t":"π⁻"}]},"mark":{"type":"text","font":"DejaVu Serif","fontWeight":"bold","fontSize":50,"align":"left","baseline":"middle","fill":"black"},"encoding":{"text":{"field":"t"},"x":{"datum":-0.024,"type":"quantitative"},"y":{"datum":0.47,"type":"quantitative"}}}
 ]}
]},
{"spacing":2,"hconcat":[
{"width":840,"height":380,
 "layer":[
  {"data":{"name":"pts"},"transform":[{"filter":"datum.d==='c'"}],"mark":{"type":"square","size":6,"color":"black","opacity":1},
   "encoding":{
    "x":{"field":"x","type":"quantitative","scale":{"domain":[-0.18,0.12],"nice":false,"zero":false},"axis":{"values":[-0.1,0,0.1],"format":"~g","labelExpr":"replace(datum.label,'−','-')","labelFontSize":44,"labelPadding":8,"labelFlush":false,"title":"Δ M ( GeV/c² )","titleFontSize":46,"titleAnchor":"end","titlePadding":4}},
    "y":{"field":"y","type":"quantitative","scale":{"domain":[-2.3,0.7],"nice":false,"zero":false},"axis":{"values":[-2,-1.5,-1,-0.5,0,0.5],"format":"~g","labelExpr":"replace(datum.label,'−','-')","labelFontSize":34,"labelPadding":27,"title":"Δ E* ( GeV )","titleFontSize":41,"titleAnchor":"end","titlePadding":61,"minExtent":100,"maxExtent":100}}}},
  {"data":{"name":"core"},"transform":[{"filter":"datum.d==='c'"}],"mark":{"type":"square","size":36,"color":"black","opacity":1},"encoding":{"x":{"field":"x","type":"quantitative"},"y":{"field":"y","type":"quantitative"}}},
  {"data":{"name":"box"},"transform":[{"filter":"datum.d==='c'"}],"mark":{"type":"rect","fill":null,"stroke":"#ff0000","strokeWidth":4,"strokeDash":[10,7]},"encoding":{"x":{"field":"x","type":"quantitative"},"y":{"field":"y","type":"quantitative"},"x2":{"field":"x2"},"y2":{"field":"y2"}}},
  {"data":{"values":[{"t":"τ⁻"}]},"mark":{"type":"text","font":"DejaVu Serif","fontSize":50,"align":"left","baseline":"middle","fill":"black"},"encoding":{"text":{"field":"t"},"x":{"datum":-0.165,"type":"quantitative"},"y":{"datum":0.42,"type":"quantitative"}}},
  {"data":{"values":[{"t":"⟶"}]},"mark":{"type":"text","font":"DejaVu Sans","fontSize":60,"align":"left","baseline":"middle","fill":"black"},"encoding":{"text":{"field":"t"},"x":{"datum":-0.1325,"type":"quantitative"},"y":{"datum":0.42,"type":"quantitative"}}},
  {"data":{"values":[{"t":"e⁻"}]},"mark":{"type":"text","font":"DejaVu Sans","fontWeight":"bold","fontSize":52,"align":"left","baseline":"middle","fill":"black"},"encoding":{"text":{"field":"t"},"x":{"datum":-0.0906,"type":"quantitative"},"y":{"datum":0.42,"type":"quantitative"}}},
  {"data":{"values":[{"t":"K⁺"}]},"mark":{"type":"text","font":"DejaVu Sans","fontWeight":"bold","fontSize":52,"align":"left","baseline":"middle","fill":"black"},"encoding":{"text":{"field":"t"},"x":{"datum":-0.0549,"type":"quantitative"},"y":{"datum":0.42,"type":"quantitative"}}},
  {"data":{"values":[{"t":"K⁻"}]},"mark":{"type":"text","font":"DejaVu Sans","fontWeight":"bold","fontSize":52,"align":"left","baseline":"middle","fill":"black"},"encoding":{"text":{"field":"t"},"x":{"datum":-0.0089,"type":"quantitative"},"y":{"datum":0.42,"type":"quantitative"}}}
 ]},
{"width":906,"height":380,
 "layer":[
  {"data":{"name":"pts"},"transform":[{"filter":"datum.d==='e'"}],"mark":{"type":"square","size":6,"color":"black","opacity":1},
   "encoding":{
    "x":{"field":"x","type":"quantitative","scale":{"domain":[-0.18,0.12],"nice":false,"zero":false},"axis":{"values":[-0.1,0,0.1],"format":"~g","labelExpr":"replace(datum.label,'−','-')","labelFontSize":44,"labelPadding":8,"labelFlush":false,"title":"Δ M ( GeV/c² )","titleFontSize":46,"titleAnchor":"end","titlePadding":4}},
    "y":{"field":"y","type":"quantitative","scale":{"domain":[-2.3,0.7],"nice":false,"zero":false},"axis":{"values":[-2,-1.5,-1,-0.5,0,0.5],"labels":false,"title":null,"minExtent":0,"maxExtent":0}}}},
  {"data":{"name":"core"},"transform":[{"filter":"datum.d==='e'"}],"mark":{"type":"square","size":36,"color":"black","opacity":1},"encoding":{"x":{"field":"x","type":"quantitative"},"y":{"field":"y","type":"quantitative"}}},
  {"data":{"name":"box"},"transform":[{"filter":"datum.d==='e'"}],"mark":{"type":"rect","fill":null,"stroke":"#ff0000","strokeWidth":4,"strokeDash":[10,7]},"encoding":{"x":{"field":"x","type":"quantitative"},"y":{"field":"y","type":"quantitative"},"x2":{"field":"x2"},"y2":{"field":"y2"}}},
  {"data":{"values":[{"t":"τ⁻"}]},"mark":{"type":"text","font":"DejaVu Serif","fontSize":50,"align":"left","baseline":"middle","fill":"black"},"encoding":{"text":{"field":"t"},"x":{"datum":-0.159,"type":"quantitative"},"y":{"datum":0.42,"type":"quantitative"}}},
  {"data":{"values":[{"t":"⟶"}]},"mark":{"type":"text","font":"DejaVu Sans","fontSize":60,"align":"left","baseline":"middle","fill":"black"},"encoding":{"text":{"field":"t"},"x":{"datum":-0.1315,"type":"quantitative"},"y":{"datum":0.42,"type":"quantitative"}}},
  {"data":{"values":[{"t":"μ⁻"}]},"mark":{"type":"text","font":"DejaVu Serif","fontWeight":"bold","fontSize":50,"align":"left","baseline":"middle","fill":"black"},"encoding":{"text":{"field":"t"},"x":{"datum":-0.094,"type":"quantitative"},"y":{"datum":0.42,"type":"quantitative"}}},
  {"data":{"values":[{"t":"K⁺"}]},"mark":{"type":"text","font":"DejaVu Sans","fontWeight":"bold","fontSize":52,"align":"left","baseline":"middle","fill":"black"},"encoding":{"text":{"field":"t"},"x":{"datum":-0.0631,"type":"quantitative"},"y":{"datum":0.42,"type":"quantitative"}}},
  {"data":{"values":[{"t":"K⁻"}]},"mark":{"type":"text","font":"DejaVu Sans","fontWeight":"bold","fontSize":52,"align":"left","baseline":"middle","fill":"black"},"encoding":{"text":{"field":"t"},"x":{"datum":-0.024,"type":"quantitative"},"y":{"datum":0.42,"type":"quantitative"}}}
 ]}
]}
]
}
